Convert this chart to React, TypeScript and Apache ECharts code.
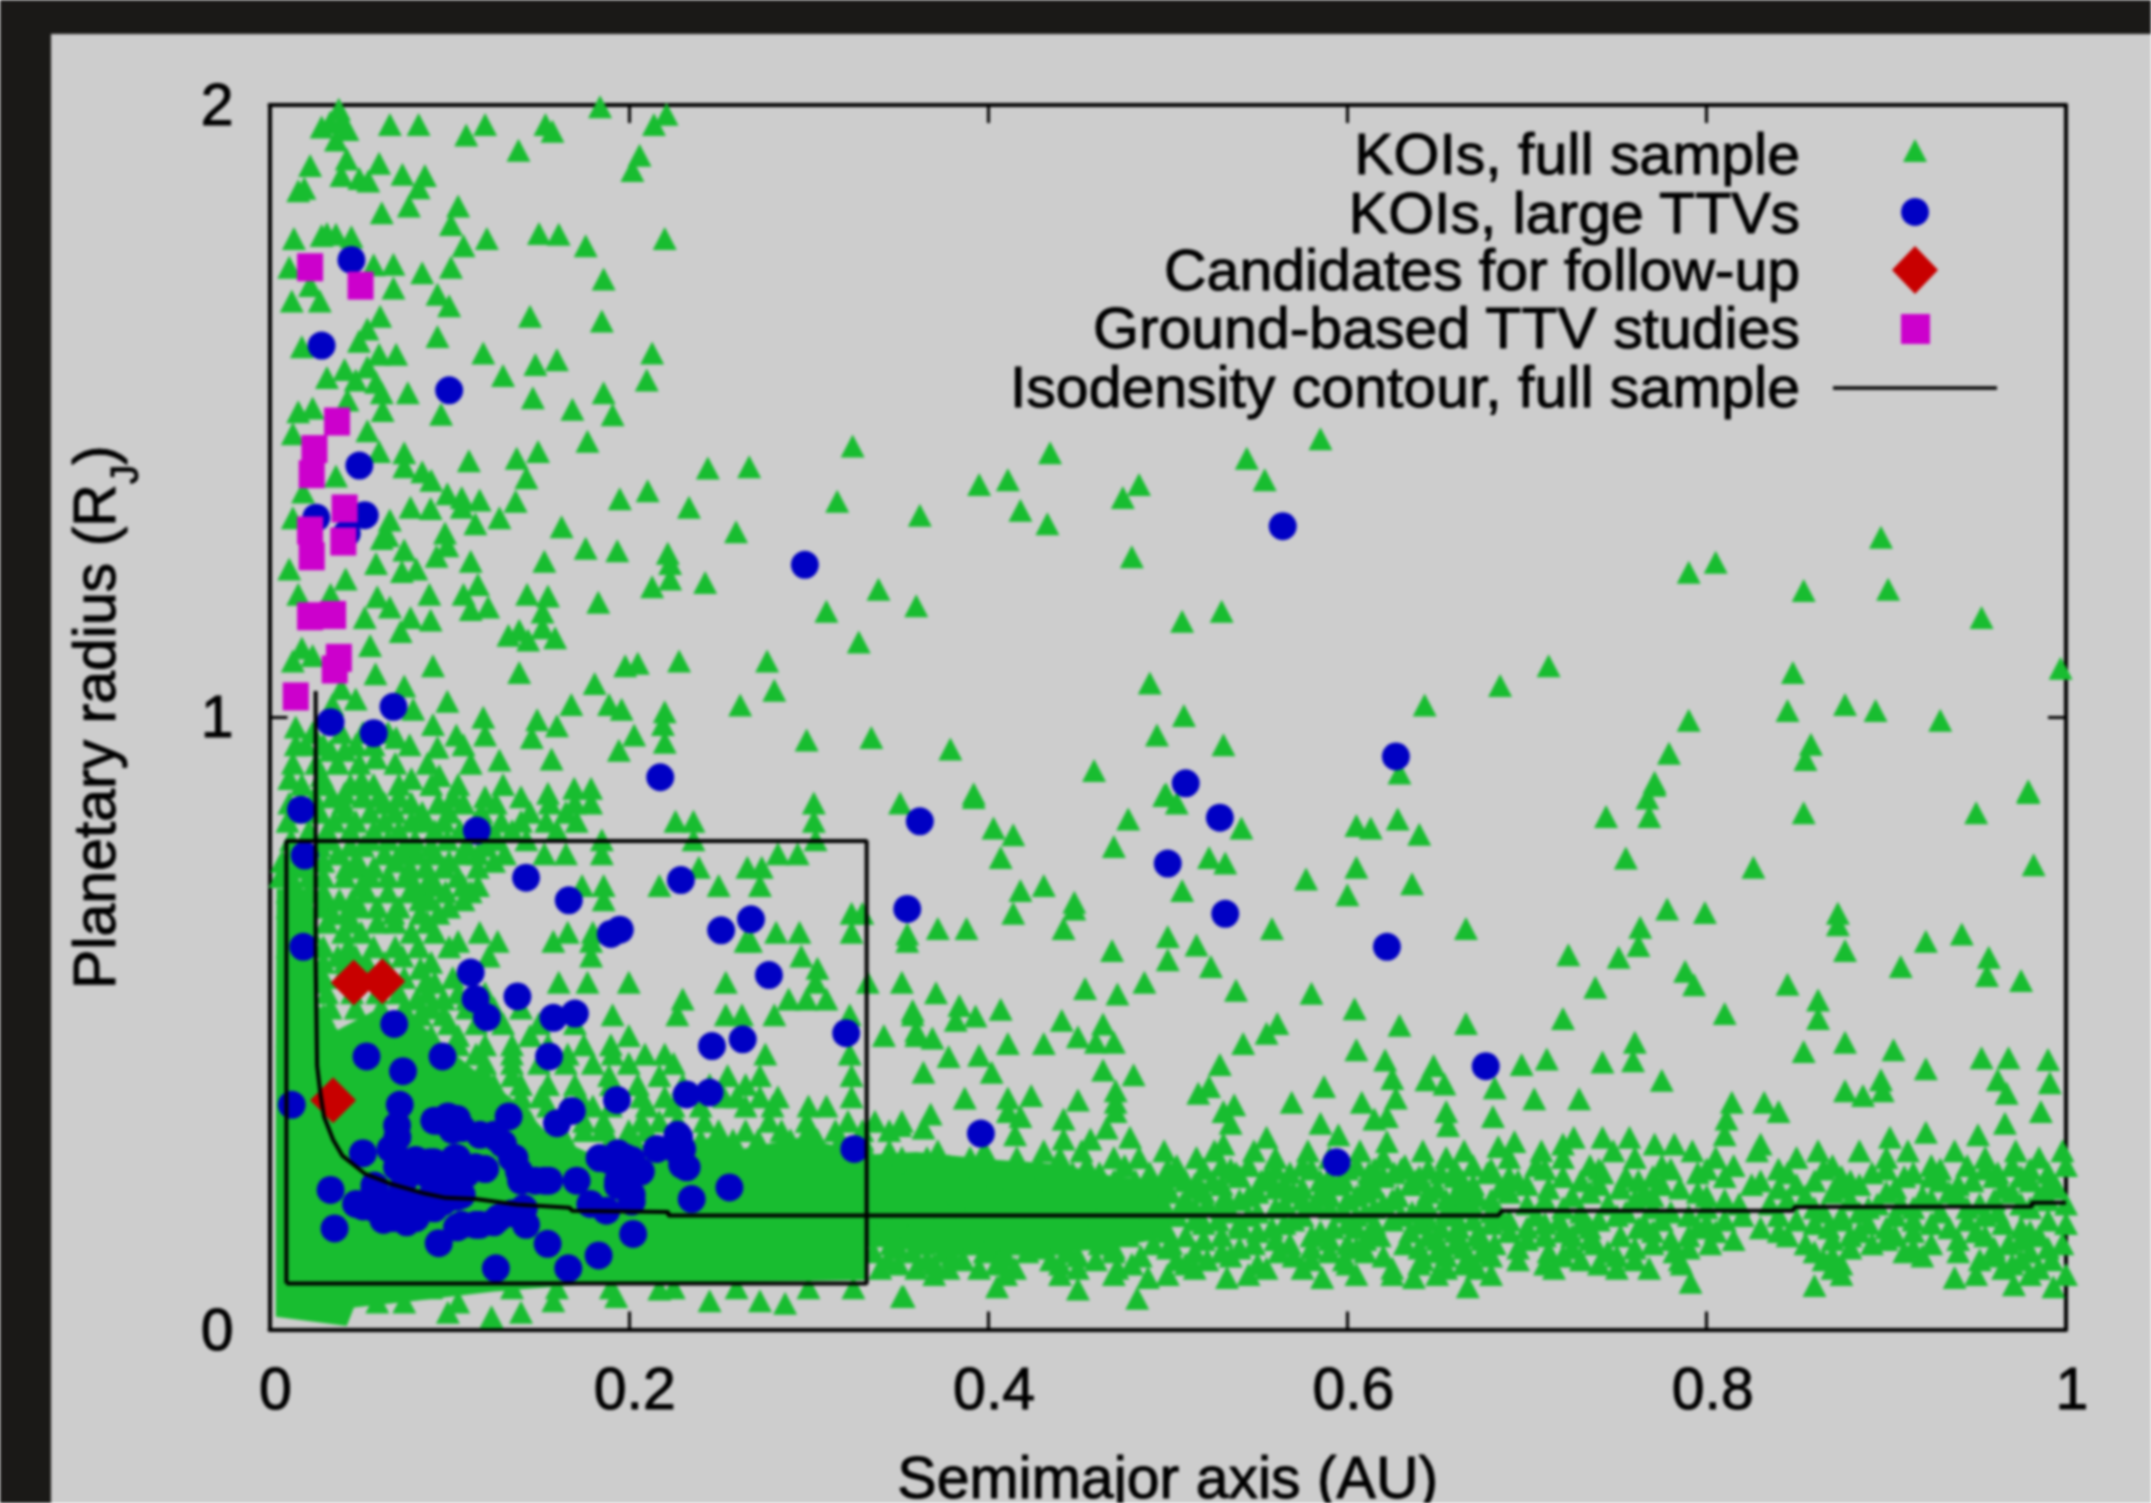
import React, { useEffect, useRef } from "react";
import * as echarts from "echarts";

const FONT = "'Liberation Sans', Arial, sans-serif";
const xTicks = [0, 0.2, 0.4, 0.6, 0.8, 1];
const legendLabels = ["KOIs, full sample", "KOIs, large TTVs", "Candidates for follow-up", "Ground-based TTV studies", "Isodensity contour, full sample"];

// solid parts of the KOI cloud, where individual markers merge
const koiDenseOutline = [[.0035,.0207],[.043,.0056],[.047,.036],[.0814,.047],[.125,.062],[.1735,.073],[.332,.081],[.332,.288],[.296,.314],[.263,.295],[.2476,.318],[.2322,.295],[.217,.303],[.1837,.299],[.181,.284],[.1555,.318],[.1377,.371],[.1172,.416],[.0968,.465],[.0814,.506],[.0584,.521],[.038,.489],[.0265,.5326],[.024,.72],[.004,.72],[.0035,.446]];
const koiBandOutline = [[.33,.14],[.33,.285],[.36,.29],[.4,.278],[.44,.27],[.47,.25],[.5,.245],[.5,.15],[.46,.13],[.42,.125],[.38,.12]];

const koiUpperLeft = [[.0386,1.993],[.0338,1.972],[.04,1.972],[.029,1.964],[.0434,1.96],[.037,1.943],[.067,1.968],[.083,1.968],[.12,1.968],[.1095,1.951],[.1536,1.968],[.1575,1.957],[.1386,1.926],[.184,1.997],[.214,1.968],[.221,1.985],[.206,1.918],[.202,1.893],[.0226,1.901],[.043,1.912],[.061,1.905],[.04,1.885],[.05,1.88],[.055,1.876],[.074,1.887],[.0865,1.885],[.083,1.865],[.0194,1.864],[.016,1.86],[.0776,1.835],[.0625,1.824],[.105,1.835],[.101,1.805],[.0136,1.782],[.032,1.79],[.0456,1.785],[.029,1.787],[.037,1.789],[.108,1.77],[.121,1.782],[.15,1.79],[.161,1.789],[.176,1.77],[.22,1.782],[.011,1.735],[.058,1.739],[.069,1.74],[.085,1.726],[.101,1.735],[.186,1.716],[.0226,1.705],[.069,1.701],[.0935,1.691],[.0124,1.68],[.028,1.68],[.1,1.672],[.145,1.655],[.185,1.647],[.0616,1.655],[.0545,1.634],[.0935,1.622],[.0498,1.614],[.018,1.605],[.119,1.595],[.213,1.595],[.061,1.593],[.0705,1.593],[.16,1.584],[.148,1.576],[.13,1.558],[.21,1.551],[.0545,1.572],[.0418,1.568],[.032,1.555],[.048,1.551],[.0593,1.547],[.077,1.53],[.186,1.53],[.0625,1.53],[.1466,1.522],[.1686,1.503],[.191,1.494],[.0955,1.495],[.063,1.501],[.0434,1.518],[.016,1.499],[.024,1.505],[.0545,1.468],[.013,1.463],[.177,1.451],[.061,1.434],[.1495,1.434],[.075,1.432],[.3246,1.443],[.111,1.419],[.1376,1.423],[.244,1.407],[.267,1.409],[.075,1.409],[.085,1.401],[.037,1.394],[.143,1.391],[.09,1.387],[.0187,1.368],[.2105,1.37],[.195,1.357],[.316,1.353],[.099,1.365],[.107,1.359],[.117,1.355],[.137,1.353],[.2335,1.343],[.0785,1.343],[.0897,1.341],[.107,1.343],[.128,1.326],[.1146,1.316],[.1626,1.311],[.2597,1.303],[.067,1.322],[.0657,1.297],[.013,1.326],[.0977,1.301],[.0625,1.292],[.099,1.28],[.176,1.276],[.1936,1.272],[.075,1.273],[.093,1.263],[.2217,1.268],[.153,1.255],[.112,1.255],[.223,1.251],[.0593,1.251],[.0737,1.238],[.0817,1.242],[.011,1.242],[.339,1.209],[.223,1.226],[.213,1.213],[.2425,1.22],[.116,1.217],[.0424,1.226],[.089,1.201],[.108,1.201],[.1434,1.201],[.155,1.198],[.183,1.188],[.31,1.173],[.06,1.197],[.067,1.18],[.1217,1.18],[.112,1.176],[.034,1.201],[.016,1.201],[.152,1.172],[.0785,1.163],[.0897,1.159],[.053,1.163],[.073,1.14],[.139,1.142],[.152,1.146],[.144,1.126],[.159,1.13],[.133,1.134],[.328,1.123],[.056,1.117],[.018,1.113],[.024,1.101],[.013,1.092],[.091,1.084],[.198,1.084],[.205,1.088],[.228,1.092],[.277,1.092],[.139,1.073],[.059,1.071],[.181,1.055],[.281,1.044],[.168,1.021],[.075,1.051],[.099,1.026],[.262,1.02],[.189,1.021],[.196,1.013],[.22,1.009],[.04,1.047],[.048,1.03],[.08,1.013],[.035,1.021],[.119,1],[.149,.996],[.219,.988],[.091,.988],[.16,.986],[.104,.971],[.12,.971],[.146,.967],[.203,.971],[.299,.963],[.335,.967],[.22,.959],[.0705,.967],[.0935,.951],[.1945,.946],[.0146,.984],[.0146,.955],[.0418,.946],[.034,.946],[.0593,.934],[.128,.93],[.157,.932],[.011,.9],[.079,.9],[.0945,.905],[.0513,.897],[.029,.905],[.1696,.884],[.179,.884],[.155,.876],[.0418,.876],[.061,.871]];

const koiUpperRight = [[.4345,1.432],[.395,1.38],[.411,1.388],[.362,1.33],[.418,1.338],[.433,1.316],[.475,1.359],[.484,1.38],[.544,1.423],[.554,1.388],[.585,1.455],[.48,1.262],[.36,1.182],[.53,1.173],[.508,1.157],[.897,1.294],[.805,1.253],[.79,1.237],[.854,1.207],[.901,1.209],[.953,1.163],[.997,1.08],[.712,1.084],[.685,1.052],[.848,1.073],[.49,1.056],[.643,1.02],[.509,1.003],[.494,.971],[.531,.955],[.379,.948],[.459,.913],[.392,.875],[.79,.995],[.845,1.011],[.877,1.021],[.894,1.011],[.93,.995],[.779,.941],[.858,.956],[.855,.931],[.771,.894],[.979,.88],[.629,.909],[.499,.875]];

const koiLowerRight = [[.392,.869],[.403,.819],[.414,.808],[.407,.771],[.418,.717],[.431,.725],[.414,.68],[.448,.698],[.448,.687],[.442,.655],[.388,.655],[.372,.655],[.355,.646],[.478,.834],[.498,.872],[.505,.86],[.47,.789],[.523,.771],[.532,.762],[.508,.717],[.558,.655],[.5,.642],[.516,.628],[.469,.619],[.5,.604],[.524,.593],[.541,.819],[.605,.823],[.613,.819],[.628,.834],[.64,.809],[.577,.736],[.605,.755],[.636,.728],[.6,.71],[.666,.655],[.744,.838],[.768,.838],[.767,.868],[.771,.889],[.854,.844],[.95,.844],[.979,.877],[.755,.77],[.826,.755],[.982,.759],[.778,.687],[.799,.681],[.763,.657],[.873,.68],[.873,.661],[.762,.627],[.751,.608],[.723,.612],[.877,.619],[.922,.634],[.942,.646],[.957,.608],[.908,.593],[.956,.578],[.975,.57],[.788,.585],[.793,.563],[.738,.559],[.845,.564],[.862,.538],[.862,.508],[.81,.516],[.72,.508],[.666,.5],[.629,.497],[.604,.524],[.58,.549],[.538,.554],[.487,.567],[.472,.548],[.454,.557],[.371,.55],[.384,.529],[.407,.523],[.393,.512],[.382,.505],[.358,.521],[.36,.488],[.369,.476],[.411,.467],[.431,.467],[.441,.505],[.45,.478],[.464,.499],[.46,.469],[.47,.469],[.561,.5],[.555,.484],[.542,.467],[.378,.446],[.395,.448],[.364,.42],[.402,.42],[.464,.424],[.481,.416],[.529,.433],[.605,.457],[.621,.44],[.625,.41],[.648,.431],[.644,.408],[.654,.401],[.682,.395],[.697,.433],[.711,.442],[.742,.437],[.759,.439],[.76,.469],[.775,.407],[.854,.454],[.877,.469],[.904,.457],[.922,.426],[.953,.444],[.968,.444],[.99,.441],[.897,.408],[.962,.408],[.877,.39],[.887,.382],[.898,.39],[.967,.386],[.991,.403],[.387,.378],[.411,.378],[.424,.382],[.45,.375],[.471,.39],[.471,.371],[.411,.356],[.418,.348],[.442,.344],[.368,.352],[.351,.333],[.364,.329],[.415,.318],[.442,.311],[.457,.311],[.466,.329],[.479,.314],[.471,.356],[.517,.386],[.523,.397],[.537,.367],[.531,.356],[.535,.337],[.569,.371],[.587,.397],[.608,.371],[.627,.378],[.622,.348],[.615,.344],[.655,.356],[.656,.333],[.681,.348],[.704,.377],[.729,.377],[.585,.337],[.555,.314],[.531,.303],[.622,.307],[.595,.318],[.814,.371],[.811,.344],[.81,.318],[.832,.371],[.84,.356],[.83,.303],[.902,.314],[.922,.322],[.951,.318],[.966,.337],[.986,.356],[.742,.314],[.757,.314],[.771,.303],[.782,.303],[.726,.314],[.72,.303],[.693,.307],[.684,.299]];

const koiFringe = [[.0993,.028],[.1236,.021],[.14,.028],[.158,.047],[.193,.054],[.217,.066],[.245,.047],[.273,.047],[.287,.043],[.352,.054],[.353,.054],[.405,.07],[.45,.066],[.483,.051],[.489,.085],[.533,.085],[.586,.085],[.637,.085],[.667,.07],[.791,.077],[.86,.072],[.938,.085],[.971,.073],[.993,.07],[.768,.1],[.786,.107]];

const koiLeftRows = [
  [.975,[.024,.04,.052,.066]],
  [.955,[.02,.03,.048,.058,.078,.108]],
  [.925,[.013,.026,.038,.05,.07,.088,.112]],
  [.89,[.018,.03,.045,.058,.072,.09,.105,.13]],
  [.87,[.025,.035,.052,.072,.102,.12,.14]],
  [.86,[.011,.041,.064,.079,.094,.108,.126,.156,.17,.179,.303,.351]],
  [.845,[.016,.028,.042,.056,.07,.085,.1,.118,.145,.165]],
  [.83,[.01,.036,.048,.064,.079,.087,.097,.115,.129,.14,.154,.171,.226,.236,.303]],
  [.815,[.022,.032,.045,.058,.072,.092,.106,.122,.135,.16]],
  [.8,[.012,.033,.056,.066,.081,.099,.127,.143,.185,.236,.304]],
  [.79,[.02,.028,.045,.052,.075,.09,.11,.12]],
  [.777,[.0125,.038,.064,.074,.082,.092,.107,.116,.131,.153,.165,.185,.283,.294]],
  [.765,[.022,.03,.048,.07,.1,.125,.007,.017]],
  [.755,[.015,.043,.051,.058,.078,.087,.097,.116,.239,.266,.274]],
  [.74,[.012,.022,.03,.042,.056,.066,.076,.09,.105,.006]],
  [.725,[.014,.051,.081,.087,.092,.108,.116,.174,.186,.217,.25,.273]],
  [.715,[.01,.022,.03,.054,.066,.078,.098,.112]],
  [.702,[.016,.032,.039,.046,.084,.089,.108,.186]],
  [.69,[.01,.02,.028,.05,.06,.072,.1]],
  [.68,[.015,.035,.043,.069,.084,.094,.324,.33]],
  [.665,[.012,.022,.032,.046,.06,.07,.088]],
  [.649,[.023,.041,.051,.079,.092,.117,.166,.18,.324,.295,.282]],
  [.634,[.105,.127,.158,.179,.268,.265,.355]],
  [.625,[.01,.022,.03,.044,.058,.07,.083,.1]],
  [.61,[.012,.018,.038,.048,.074,.122,.179,.296]],
  [.6,[.022,.03,.042,.054,.064,.09]],
  [.59,[.015,.084,.305]],
  [.575,[.02,.03,.04,.05,.075,.102]],
  [.567,[.012,.028,.087,.092,.161,.177,.2,.254,.304,.333,.352]],
  [.55,[.032,.046,.06,.072,.088,.105,.12]],
  [.54,[.015,.082,.097,.11,.23,.289,.299,.31]],
  [.525,[.02,.034,.048,.062,.075,.09,.11,.125,.14]],
  [.514,[.015,.03,.084,.097,.191,.227,.254,.263,.281,.323,.358]],
  [.5,[.1,.115,.13,.15,.17]],
  [.48,[.01,.02,.03,.045,.06,.075,.09,.105,.145,.2,.342,.36]],
  [.465,[.105,.12,.135,.155,.175,.19]],
  [.45,[.012,.025,.04,.055,.07,.085,.1,.115,.135,.166,.191,.209,.22,.276,.323]],
  [.435,[.12,.135,.15,.165,.18,.2,.225]],
  [.415,[.012,.03,.045,.06,.075,.09,.105,.12,.135,.189,.217,.255,.273,.324]],
  [.4,[.125,.14,.155,.17,.19,.205,.23,.245,.265]],
  [.38,[.03,.05,.065,.08,.095,.11,.125,.14,.151,.173,.207,.22,.253,.26,.273,.283,.324]],
  [.365,[.14,.155,.165,.18,.19,.21,.225,.24,.265,.28,.3,.31]],
  [.34,[.04,.055,.07,.085,.1,.115,.13,.145,.16,.175,.186,.207,.217,.227,.242,.278,.299,.322,.337,.352]],
  [.325,[.16,.175,.185,.2,.21,.23,.25,.265,.285,.3,.315,.33,.345]],
  [.31,[.165,.19,.203,.222,.24,.258,.272,.29,.305,.318,.33]],
  [.068,[.02,.055,.09,.135,.16,.19,.225,.26,.3,.325]],
  [.045,[.012,.03,.06,.075,.105]],
];

const koiBandRows = [
  [.292,[.345,.372,.398,.431,.452,.498,.526,.548,.578,.607,.642,.665,.708,.748,.792,.828,.862,.885,.912,.938,.972,.998]],
  [.281,[.334,.352,.366,.39,.416,.44,.47,.484,.516,.56,.59,.62,.655,.69,.72,.76,.805,.85,.9,.955,.985]],
  [.268,[.342,.358,.378,.402,.428,.455,.476,.505,.53,.545,.575,.605,.632,.67,.705,.735,.775,.815,.87,.925,.945,.97,1]],
  [.262,[.5,.52,.535,.56,.58,.6,.615,.63,.645,.66,.68,.71,.74,.78,.8,.84,.865,.9,.93,.955,.98]],
  [.256,[.335,.348,.371,.384,.41,.422,.447,.462,.49,.538,.568,.612,.626,.652,.678,.742,.795,.845,.892,.915,.962,.99]],
  [.25,[.505,.54,.555,.59,.62,.64,.66,.69,.72,.755,.77,.81,.875,.91,.925,.96,.975]],
  [.243,[.34,.355,.366,.395,.415,.436,.47,.482,.51,.525,.552,.585,.598,.638,.664,.695,.73,.762,.83,.86,.88,.93,.948,.98]],
  [.237,[.515,.53,.565,.595,.61,.635,.67,.7,.74,.775,.825,.85,.885,.94,.99]],
  [.231,[.334,.35,.378,.39,.404,.425,.442,.458,.5,.518,.56,.575,.615,.65,.685,.712,.752,.785,.84,.875,.905,.965,.995]],
  [.224,[.5,.52,.55,.57,.585,.61,.645,.665,.69,.735,.765,.795,.87,.9,.935,.97]],
  [.218,[.345,.362,.372,.398,.41,.432,.452,.475,.49,.532,.545,.59,.605,.628,.66,.672,.725,.77,.8,.855,.92,.94,.985]],
  [.212,[.51,.54,.575,.6,.625,.655,.68,.71,.76,.81,.845,.88,.925,.96,.99]],
  [.205,[.336,.354,.382,.392,.418,.44,.465,.484,.508,.522,.565,.582,.62,.642,.665,.7,.745,.818,.835,.895,.908,.952,.975,1]],
  [.199,[.515,.53,.56,.59,.615,.645,.67,.72,.77,.8,.86,.89,.915,.945,.98]],
  [.192,[.342,.365,.376,.405,.426,.45,.478,.5,.535,.55,.598,.61,.636,.655,.68,.73,.755,.78,.865,.885,.93,.962]],
  [.186,[.505,.545,.575,.605,.63,.66,.685,.705,.75,.79,.82,.84,.875,.905,.955]],
  [.179,[.334,.35,.36,.388,.412,.438,.46,.492,.515,.528,.57,.625,.645,.67,.69,.718,.74,.775,.81,.85,.875,.915,.945,.99]],
  [.173,[.52,.54,.565,.6,.615,.64,.68,.71,.73,.765,.8,.86,.89,.925,.965,1]],
  [.166,[.345,.37,.382,.396,.42,.445,.47,.486,.54,.558,.592,.605,.652,.662,.7,.735,.762,.795,.83,.868,.9,.935,.975]],
  [.16,[.5,.55,.585,.615,.635,.66,.69,.72,.77,.805,.84,.885,.915,.95,.98]],
  [.153,[.338,.356,.378,.402,.43,.456,.478,.51,.53,.58,.618,.645,.672,.71,.725,.752,.79,.845,.88,.905,.955,.985]],
  [.147,[.52,.56,.59,.61,.65,.675,.7,.735,.78,.815,.87,.9,.94,.975]],
  [.14,[.346,.364,.39,.412,.44,.462,.492,.502,.548,.568,.6,.632,.66,.682,.738,.77,.802,.855,.892,.925,.968,.998]],
  [.133,[.35,.4,.43,.47,.5,.54,.58,.605,.64,.665,.695,.725,.76,.79,.88,.915,.96,.99]],
  [.127,[.336,.358,.375,.398,.422,.445,.47,.515,.53,.562,.59,.61,.65,.675,.712,.745,.782,.86,.91,.94,.98]],
  [.12,[.38,.41,.45,.485,.535,.57,.62,.655,.68,.72,.75,.87,.92,.96]],
  [.114,[.344,.366,.386,.406,.435,.46,.505,.522,.58,.598,.642,.668,.695,.73,.76,.785,.865,.952,.975,.992]],
  [.107,[.35,.37,.405,.44,.48,.51,.55,.6,.64,.665,.71,.74,.875,.97]],
  [.1,[.34,.36,.378,.395,.415,.45,.472,.515,.555,.575,.625,.655,.672,.715,.75,.87,.965,.985]],
  [.09,[.37,.41,.44,.47,.5,.545,.605,.625,.65,.68,.875,.95,.98,1]],
];

const koiLargeTTV = [[.0456,1.747],[.029,1.607],[.1,1.534],[.05,1.411],[.026,1.326],[.053,1.33],[.043,1.3],[.298,1.249],[.069,1.017],[.034,.992],[.058,.974],[.2175,.902],[.564,1.312],[.627,.936],[.51,.892],[.362,.83],[.529,.836],[.5,.761],[.355,.687],[.532,.679],[.622,.625],[.677,.43],[.396,.32],[.594,.273],[.0175,.849],[.1154,.815],[.0196,.774],[.1428,.738],[.229,.734],[.1666,.701],[.19,.646],[.195,.653],[.2514,.652],[.268,.67],[.0188,.625],[.278,.579],[.112,.583],[.1147,.54],[.121,.51],[.138,.544],[.158,.509],[.17,.516],[.0694,.499],[.321,.484],[.2634,.474],[.2463,.463],[.054,.446],[.0963,.446],[.1556,.446],[.0743,.422],[.1934,.375],[.2322,.384],[.245,.387],[.0124,.367],[.0725,.367],[.1331,.348],[.1683,.357],[.16,.337],[.071,.333],[.0942,.341],[.1044,.344],[.1019,.326],[.1172,.318],[.126,.314],[.228,.314],[.0674,.295],[.052,.288],[.135,.28],[.2156,.295],[.227,.292],[.2297,.269],[.1888,.277],[.198,.281],[.3255,.295],[.071,.265],[.0827,.269],[.089,.273],[.103,.28],[.1019,.258],[.1147,.265],[.12,.262],[.1095,.254],[.14,.243],[.153,.243],[.171,.243],[.2067,.258],[.194,.243],[.256,.232],[.034,.228],[.0584,.235],[.235,.213],[.1786,.205],[.1875,.194],[.2016,.209],[.052,.201],[.0635,.205],[.0738,.209],[.0865,.209],[.097,.209],[.107,.22],[.0635,.179],[.0763,.175],[.0917,.198],[.1415,.198],[.107,.171],[.117,.171],[.1275,.182],[.1428,.171],[.0362,.165],[.2024,.156],[.1548,.14],[.0942,.141],[.1832,.121],[.126,.1],[.1663,.1],[.0482,.205],[.0584,.198],[.0687,.182],[.0814,.182],[.0738,.228],[.0584,.228],[.0942,.22],[.1044,.217],[.0712,.28],[.0814,.277],[.0917,.273],[.1044,.28],[.0763,.25],[.0891,.25],[.1019,.25],[.0712,.314],[.0917,.341],[.0993,.348],[.107,.329],[.1249,.318],[.13,.303],[.1364,.28],[.1389,.258],[.1479,.243],[.1556,.243],[.1044,.167],[.1147,.171],[.1249,.175],[.1351,.19],[.1402,.186],[.1837,.28],[.1939,.288],[.2016,.277],[.1939,.235],[.2016,.22],[.2271,.318],[.2297,.295],[.2322,.265]];

const followUpCandidates = [[.0469,.5666],[.0628,.569],[.0354,.3746]];

const groundBasedTTV = [[.0226,1.735],[.0507,1.705],[.0376,1.483],[.025,1.438],[.0235,1.397],[.0418,1.341],[.0226,1.305],[.0411,1.287],[.0235,1.263],[.0226,1.165],[.0354,1.167],[.0386,1.097],[.0363,1.078],[.0146,1.034]];

const isodensityContour = [[.0257,1.043],[.0257,.6],[.0265,.431],[.0283,.386],[.0303,.348],[.0354,.31],[.0405,.284],[.0533,.254],[.0686,.237],[.0866,.222],[.0981,.215],[.1147,.213],[.1377,.204],[.1671,.199],[.1684,.194],[.222,.192],[.222,.186],[.684,.186],[.686,.194],[.848,.194],[.849,.2],[.981,.201],[.981,.207],[1,.207]];

const selectionBox = [[.0094,.075],[.0094,.798],[.3324,.798],[.3324,.075],[.0094,.075]];

const expand = (rows: any[]) => rows.flatMap(([y, xs]: any) => xs.map((x: number) => [x, y]));
const koiFull = [...koiUpperLeft, ...koiUpperRight, ...koiLowerRight, ...koiFringe, ...expand(koiLeftRows), ...expand(koiBandRows)];

const GREEN = "#18bd30", BLUE = "#0000c4", RED = "#c80000", MAGENTA = "#cc00cc", INK = "#000";

export default function App() {
  const ref = useRef<HTMLDivElement>(null);
  useEffect(() => {
    const chart = echarts.init(ref.current!, null, { renderer: "svg" });
    const axisBase = {
      min: 0,
      axisLine: { show: true, onZero: false, lineStyle: { color: INK, width: 4 } },
      axisTick: { show: true, inside: true, length: 18, lineStyle: { color: INK, width: 3 } },
      splitLine: { show: false },
    };
    const labelStyle = { color: INK, fontFamily: FONT, fontSize: 59, textBorderColor: INK, textBorderWidth: 1 };
    const legendY = [151, 212, 270, 329, 388];
    const legendBaselines = [154, 212.5, 270, 328, 387];
    const polygon = (outline: number[][]) => (_p: any, api: any) => ({
      type: "polygon",
      shape: { points: outline.map((p) => api.coord(p)) },
      style: { fill: GREEN },
    });
    chart.setOption({
      animation: false,
      backgroundColor: "#1a1917",
      grid: { left: 269.5, top: 105, width: 1796.5, height: 1224.5, outerBoundsMode: "none", containLabel: false },
      xAxis: [
        {
          ...axisBase, type: "value", max: 1, interval: 0.2, position: "bottom",
          axisLabel: { ...labelStyle, margin: 30, padding: [0, 0, 0, 12], customValues: xTicks },
          name: "Semimajor axis (AU)", nameLocation: "middle", nameGap: 119,
          nameTextStyle: { ...labelStyle },
        },
        { ...axisBase, type: "value", max: 1, interval: 0.2, position: "top", axisLabel: { show: false } },
      ],
      yAxis: [
        {
          ...axisBase, type: "value", max: 2, interval: 1, position: "left",
          axisLabel: { ...labelStyle, margin: 36 },
          name: "Planetary radius (R{sub|J})", nameLocation: "middle", nameGap: 126,
          nameTextStyle: { ...labelStyle, rich: { sub: { fontFamily: FONT, fontSize: 38, color: INK, textBorderColor: INK, textBorderWidth: 1, padding: [60, 0, 0, 0] } } },
        },
        { ...axisBase, type: "value", max: 2, interval: 1, position: "right", axisLabel: { show: false } },
      ],
      graphic: [
        { type: "rect", z: -10, silent: true, shape: { x: 51, y: 34, width: 2100, height: 1469 }, style: { fill: "#cdcdcd" } },
        ...legendLabels.map((text, i) => ({
          type: "text", z: 50, x: 1800, y: legendBaselines[i], scaleX: 1.017,
          style: { text, fontFamily: FONT, fontSize: 58, lineHeight: 54, fill: INK, stroke: INK, lineWidth: 1, textAlign: "right", textVerticalAlign: "middle" },
        })),
        { type: "polygon", z: 50, shape: { points: [[1903, 162], [1927, 162], [1915, 139]] }, style: { fill: GREEN } },
        { type: "circle", z: 50, shape: { cx: 1915, cy: legendY[1], r: 14 }, style: { fill: BLUE } },
        { type: "polygon", z: 50, shape: { points: [[1892, legendY[2]], [1915, legendY[2] - 24], [1938, legendY[2]], [1915, legendY[2] + 24]] }, style: { fill: RED } },
        { type: "rect", z: 50, shape: { x: 1901, y: legendY[3] - 15, width: 29, height: 30 }, style: { fill: MAGENTA } },
        { type: "line", z: 50, shape: { x1: 1833, y1: legendY[4], x2: 1997, y2: legendY[4] }, style: { stroke: INK, lineWidth: 3.5 } },
      ],
      series: [
        { type: "custom", name: "KOIs, merged", data: [0], clip: false, silent: true, z: 1, renderItem: polygon(koiDenseOutline) },
        { type: "custom", name: "KOIs, merged band", data: [0], clip: false, silent: true, z: 1, renderItem: polygon(koiBandOutline) },
        { type: "scatter", name: legendLabels[0], data: koiFull, symbol: "triangle", symbolSize: [24, 23], itemStyle: { color: GREEN, opacity: 1 }, clip: false, silent: true, z: 2 },
        { type: "scatter", name: legendLabels[1], data: koiLargeTTV, symbol: "circle", symbolSize: 28, itemStyle: { color: BLUE, opacity: 1 }, clip: false, silent: true, z: 3 },
        { type: "scatter", name: legendLabels[2], data: followUpCandidates, symbol: "diamond", symbolSize: 46, itemStyle: { color: RED, opacity: 1 }, clip: false, silent: true, z: 4 },
        { type: "scatter", name: legendLabels[3], data: groundBasedTTV, symbol: "rect", symbolSize: [26, 28], itemStyle: { color: MAGENTA, opacity: 1 }, clip: false, silent: true, z: 5 },
        { type: "line", name: legendLabels[4], data: isodensityContour, showSymbol: false, symbol: "none", lineStyle: { color: INK, width: 4 }, clip: false, silent: true, z: 6 },
        { type: "line", name: "Selection box", data: selectionBox, showSymbol: false, symbol: "none", lineStyle: { color: INK, width: 4 }, clip: false, silent: true, z: 6 },
      ],
    });
    return () => chart.dispose();
  }, []);
  return (
    <div
      ref={ref}
      style={{ position: "absolute", left: 0, top: 0, width: 2151, height: 1503, filter: "blur(1.4px)" }}
    />
  );
}
